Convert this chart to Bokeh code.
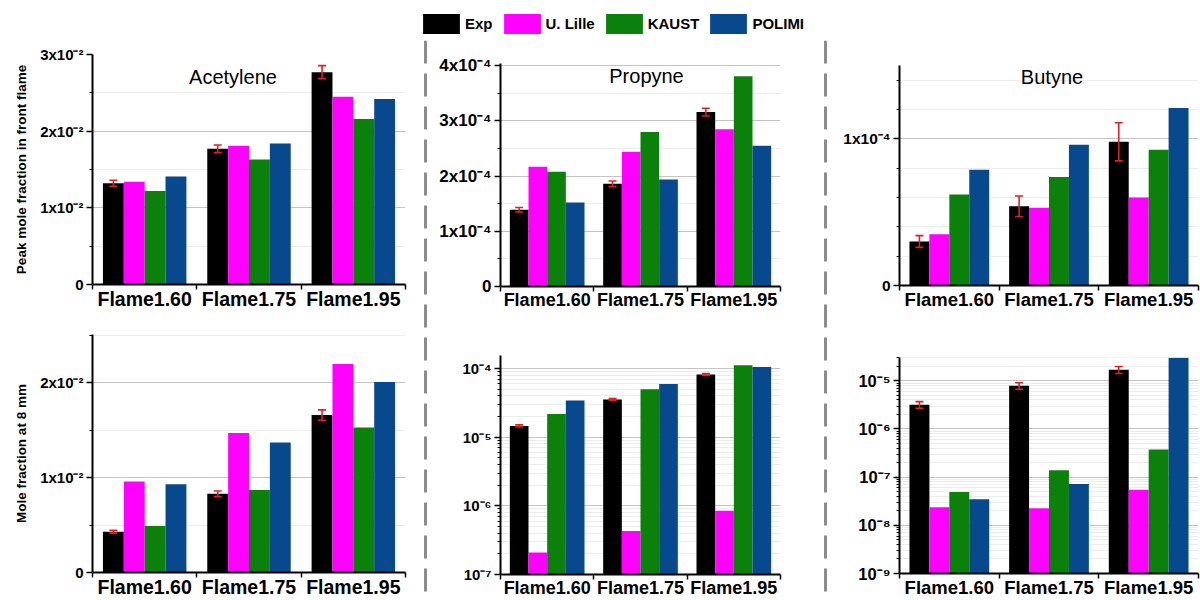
from bokeh.plotting import figure
from bokeh.models import (ColumnDataSource, Range1d, FixedTicker, Whisker, TeeHead,
                          Label, Span, Legend, LegendItem)
from bokeh.layouts import row, column
from bokeh.transform import dodge
from bokeh.embed import file_html
from bokeh.resources import INLINE

# ---------------- data ----------------
flames = ["Flame1.60", "Flame1.75", "Flame1.95"]
series = ["Exp", "U. Lille", "KAUST", "POLIMI"]
colors = ["#000000", "#ff00ff", "#0b800b", "#08488c"]
err_color = "#dd2222"

# Acetylene, peak mole fraction in front flame
acet_peak_exp = [1.32e-2, 1.77e-2, 2.77e-2]
acet_peak_err = [0.04e-2, 0.05e-2, 0.085e-2]
acet_peak_lille = [1.34e-2, 1.81e-2, 2.45e-2]
acet_peak_kaust = [1.22e-2, 1.63e-2, 2.16e-2]
acet_peak_polimi = [1.41e-2, 1.84e-2, 2.42e-2]

# Propyne, peak mole fraction in front flame
prop_peak_exp = [1.39e-4, 1.86e-4, 3.16e-4]
prop_peak_err = [0.04e-4, 0.05e-4, 0.07e-4]
prop_peak_lille = [2.17e-4, 2.44e-4, 2.85e-4]
prop_peak_kaust = [2.08e-4, 2.80e-4, 3.81e-4]
prop_peak_polimi = [1.52e-4, 1.94e-4, 2.55e-4]

# Butyne, peak mole fraction in front flame
but_peak_exp = [0.30e-4, 0.54e-4, 0.98e-4]
but_peak_err = [0.04e-4, 0.07e-4, 0.13e-4]
but_peak_lille = [0.35e-4, 0.53e-4, 0.60e-4]
but_peak_kaust = [0.62e-4, 0.74e-4, 0.925e-4]
but_peak_polimi = [0.79e-4, 0.96e-4, 1.21e-4]

# Acetylene, mole fraction at 8 mm
acet_8_exp = [0.43e-2, 0.83e-2, 1.66e-2]
acet_8_err = [0.015e-2, 0.03e-2, 0.055e-2]
acet_8_lille = [0.96e-2, 1.47e-2, 2.20e-2]
acet_8_kaust = [0.49e-2, 0.87e-2, 1.53e-2]
acet_8_polimi = [0.93e-2, 1.37e-2, 2.01e-2]

# Propyne, mole fraction at 8 mm
prop_8_exp = [1.46e-5, 3.55e-5, 8.2e-5]
prop_8_err = [0.05e-5, 0.1e-5, 0.25e-5]
prop_8_lille = [2.1e-7, 4.3e-7, 8.5e-7]
prop_8_kaust = [2.18e-5, 5.0e-5, 1.12e-4]
prop_8_polimi = [3.44e-5, 5.98e-5, 1.05e-4]

# Butyne, mole fraction at 8 mm
but_8_exp = [3.2e-6, 7.9e-6, 1.7e-5]
but_8_err = [0.5e-6, 1.2e-6, 0.28e-5]
but_8_lille = [2.36e-8, 2.25e-8, 5.5e-8]
but_8_kaust = [4.9e-8, 1.39e-7, 3.75e-7]
but_8_polimi = [3.5e-8, 7.2e-8, 3.0e-5]

# tick values and labels
acet_peak_ticks = [0, 0.01, 0.02, 0.03]
acet_peak_labels = ["0", "1x10\u207b\u00b2", "2x10\u207b\u00b2", "3x10\u207b\u00b2"]
acet_peak_minor = [0.005, 0.015, 0.025]

prop_peak_ticks = [0, 1e-4, 2e-4, 3e-4, 4e-4]
prop_peak_labels = ["0", "1x10\u207b\u2074", "2x10\u207b\u2074", "3x10\u207b\u2074", "4x10\u207b\u2074"]
prop_peak_minor = [0.5e-4, 1.5e-4, 2.5e-4, 3.5e-4]

but_peak_ticks = [0, 1e-4]
but_peak_labels = ["0", "1x10\u207b\u2074"]
but_peak_minor = [0.2e-4, 0.4e-4, 0.6e-4, 0.8e-4, 1.2e-4, 1.4e-4]

acet_8_ticks = [0, 0.01, 0.02]
acet_8_labels = ["0", "1x10\u207b\u00b2", "2x10\u207b\u00b2"]
acet_8_minor = [0.005, 0.015, 0.025]

prop_8_ticks = [1e-7, 1e-6, 1e-5, 1e-4]
prop_8_labels = ["10\u207b\u2077", "10\u207b\u2076", "10\u207b\u2075", "10\u207b\u2074"]

but_8_ticks = [1e-9, 1e-8, 1e-7, 1e-6, 1e-5]
but_8_labels = ["10\u207b\u2079", "10\u207b\u2078", "10\u207b\u2077", "10\u207b\u2076", "10\u207b\u2075"]

FONT = "Liberation Sans"
x_centers = [i + 0.5 for i in range(len(flames))]
x_bounds = [float(i) for i in range(len(flames) + 1)]
offsets = [-0.3, -0.1, 0.1, 0.3]


def log_minor(ticks, upper):
    out = []
    for t in ticks:
        for m in range(2, 10):
            v = t * m
            if v < upper:
                out.append(v)
    return out


def make_panel(width, height, mb, y_rng, log, ticks, labels, minor, values, err,
               xfont="19.5px", yfont="15px", title=None, title_off=(0, 0), ylabel=None):
    mbl, mbr, mbt, mbb = mb
    p = figure(width=width, height=height,
               x_range=Range1d(0, len(flames)), y_range=Range1d(*y_rng),
               y_axis_type="log" if log else "linear",
               output_backend="svg", toolbar_location=None,
               min_border_left=mbl, min_border_right=mbr,
               min_border_top=mbt, min_border_bottom=mbb)
    p.outline_line_color = None
    p.background_fill_color = "white"

    src = ColumnDataSource(dict(
        x=x_centers,
        exp=values[0], lille=values[1], kaust=values[2], polimi=values[3],
        upper=[v + e for v, e in zip(values[0], err)],
        lower=[v - e for v, e in zip(values[0], err)],
    ))
    base = y_rng[0]
    rends = []
    for col, off, c in zip(["exp", "lille", "kaust", "polimi"], offsets, colors):
        rends.append(p.vbar(x=dodge("x", off), top=col, bottom=base, width=0.2, source=src,
                            fill_color=c, line_color=None))

    head_u = TeeHead(size=8, line_color=err_color, line_width=1.6)
    head_l = TeeHead(size=8, line_color=err_color, line_width=1.6)
    w = Whisker(base=dodge("x", offsets[0]), upper="upper", lower="lower", source=src,
                line_color=err_color, line_width=1.6,
                upper_head=head_u, lower_head=head_l, level="overlay")
    p.add_layout(w)

    # x axis
    xt = FixedTicker(ticks=x_centers, minor_ticks=x_bounds)
    p.xaxis.ticker = xt
    p.xaxis.major_label_overrides = dict(zip(x_centers, flames))
    p.xaxis.major_tick_out = 0
    p.xaxis.major_tick_in = 0
    p.xaxis.minor_tick_out = 5
    p.xaxis.minor_tick_in = 0
    p.xaxis.minor_tick_line_width = 1.5
    p.xaxis.minor_tick_line_color = "black"
    p.xaxis.axis_line_width = 2
    p.xaxis.axis_line_color = "black"
    p.xaxis.major_label_standoff = -2
    p.xaxis.major_label_text_font = FONT
    p.xaxis.major_label_text_font_style = "bold"
    p.xaxis.major_label_text_font_size = xfont
    p.xaxis.major_label_text_color = "black"
    p.xgrid.visible = False

    # y axis
    if log:
        minor = log_minor(ticks, y_rng[1])
    yt = FixedTicker(ticks=ticks, minor_ticks=minor)
    p.yaxis.ticker = yt
    p.ygrid.ticker = yt
    p.yaxis.major_label_overrides = dict(zip(ticks, labels))
    p.yaxis.major_tick_out = 6
    p.yaxis.major_tick_in = 0
    p.yaxis.minor_tick_out = 3
    p.yaxis.minor_tick_in = 0
    p.yaxis.major_tick_line_width = 1.5
    p.yaxis.minor_tick_line_width = 1
    p.yaxis.major_tick_line_color = "black"
    p.yaxis.minor_tick_line_color = "black"
    p.yaxis.axis_line_width = 2
    p.yaxis.axis_line_color = "black"
    p.yaxis.major_label_standoff = 3
    p.yaxis.major_label_text_font = FONT
    p.yaxis.major_label_text_font_style = "bold"
    p.yaxis.major_label_text_font_size = yfont
    p.yaxis.major_label_text_color = "black"
    p.ygrid.grid_line_color = "#c4c4c4"
    p.ygrid.grid_line_width = 1
    p.ygrid.minor_grid_line_color = "#ececec"
    p.ygrid.minor_grid_line_width = 1
    if ylabel:
        p.yaxis.axis_label = ylabel
        p.yaxis.axis_label_text_font = FONT
        p.yaxis.axis_label_text_font_style = "bold"
        p.yaxis.axis_label_text_font_size = "13.5px"
        p.yaxis.axis_label_text_color = "black"
        p.yaxis.axis_label_standoff = 8

    if title:
        p.add_layout(Label(x=len(flames) / 2, y=y_rng[1], x_offset=title_off[0],
                           y_offset=title_off[1], text=title, text_align="center",
                           text_baseline="middle", text_font=FONT,
                           text_font_size="20px", text_color="black"))
    return p, src


def make_sep(height):
    s = figure(width=22, height=height, x_range=Range1d(0, 1), y_range=Range1d(0, 1),
               x_axis_type=None, y_axis_type=None, toolbar_location=None,
               output_backend="svg", min_border=0)
    s.outline_line_color = None
    s.add_layout(Span(location=0.5, dimension="height", line_color="#8c8c8c",
                      line_width=3, line_dash="23 10"))
    return s


TOP_H, BOT_H = 280, 280

p1, src1 = make_panel(414, TOP_H, (92, 9, 14, 36), (0, 0.03), False,
                      acet_peak_ticks, acet_peak_labels, acet_peak_minor,
                      [acet_peak_exp, acet_peak_lille, acet_peak_kaust, acet_peak_polimi],
                      acet_peak_err, xfont="19.5px", yfont="15px",
                      title="Acetylene", title_off=(-16, -22),
                      ylabel="Peak mole fraction in front flame")
p4, _ = make_panel(414, BOT_H, (92, 9, 14, 27), (0, 0.0251), False,
                   acet_8_ticks, acet_8_labels, acet_8_minor,
                   [acet_8_exp, acet_8_lille, acet_8_kaust, acet_8_polimi],
                   acet_8_err, xfont="19.5px", yfont="15px",
                   ylabel="Mole fraction at 8 mm")

p2, _ = make_panel(378, TOP_H, (61, 21, 23, 34), (0, 4.04e-4), False,
                   prop_peak_ticks, prop_peak_labels, prop_peak_minor,
                   [prop_peak_exp, prop_peak_lille, prop_peak_kaust, prop_peak_polimi],
                   prop_peak_err, xfont="18px", yfont="17px",
                   title="Propyne", title_off=(6, -12))
p5, _ = make_panel(378, BOT_H, (46, 34, 35, 25), (1e-7, 1.55e-4), True,
                   prop_8_ticks, prop_8_labels, None,
                   [prop_8_exp, prop_8_lille, prop_8_kaust, prop_8_polimi],
                   prop_8_err, xfont="18px", yfont="15px")

p3, _ = make_panel(364, TOP_H, (63, 2, 25, 35), (0, 1.5e-4), False,
                   but_peak_ticks, but_peak_labels, but_peak_minor,
                   [but_peak_exp, but_peak_lille, but_peak_kaust, but_peak_polimi],
                   but_peak_err, xfont="18.5px", yfont="15.5px",
                   title="Butyne", title_off=(3, -11))
p6, _ = make_panel(364, BOT_H, (63, 2, 37, 22), (1e-9, 3.05e-5), True,
                   but_8_ticks, but_8_labels, None,
                   [but_8_exp, but_8_lille, but_8_kaust, but_8_polimi],
                   but_8_err, xfont="18.5px", yfont="16.5px")

# legend strip (renderers use real data but sit outside the visible y range)
leg = figure(width=1200, height=40, x_range=Range1d(0, len(flames)), y_range=Range1d(1, 2),
             x_axis_type=None, y_axis_type=None, toolbar_location=None,
             output_backend="svg", min_border=0)
leg.outline_line_color = None
leg_rends = [leg.vbar(x=dodge("x", off), top=col, bottom=0, width=0.2, source=src1,
                      fill_color=c, line_color=None)
             for col, off, c in zip(["exp", "lille", "kaust", "polimi"], offsets, colors)]
legend = Legend(items=[LegendItem(label=s, renderers=[r]) for s, r in zip(series, leg_rends)],
                location=(418, 4), orientation="horizontal",
                glyph_width=46, glyph_height=25, label_height=25,
                label_standoff=1, spacing=6, padding=0, margin=0,
                label_text_font=FONT, label_text_font_style="bold",
                label_text_font_size="15px", label_text_color="black",
                border_line_color=None, background_fill_alpha=0)
leg.add_layout(legend)

sep_h = TOP_H + BOT_H
layout = column(
    leg,
    row(column(p1, p4), make_sep(sep_h), column(p2, p5), make_sep(sep_h), column(p3, p6)),
)

open("out.html", "w").write(file_html(layout, INLINE))
